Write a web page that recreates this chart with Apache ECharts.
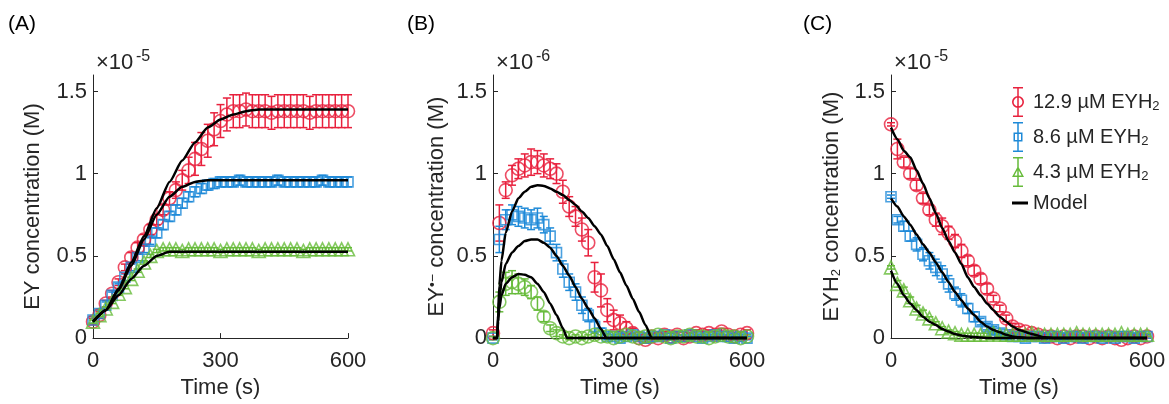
<!DOCTYPE html>
<html><head><meta charset="utf-8">
<script src="https://cdn.jsdelivr.net/npm/echarts@6/dist/echarts.min.js"></script>
<style>html,body{margin:0;padding:0;background:#fff}#c{width:1169px;height:404px}</style>
</head><body><div id="c"></div>
<script>
// ---------- data ----------
const time = [0,15,30,45,60,75,90,105,120,135,150,165,180,195,210,225,240,255,270,285,300,315,330,345,360,375,390,405,420,435,450,465,480,495,510,525,540,555,570,585,600];
const xTicks = [0,300,600];
const yTicks = [0,0.5,1,1.5];
const seriesNames = ['12.9 µM EYH2','8.6 µM EYH2','4.3 µM EYH2'];

// Panel A: EY (x1e-5 M)
const aRed = [0.10,0.14,0.21,0.27,0.34,0.43,0.49,0.55,0.60,0.66,0.72,0.78,0.85,0.90,0.96,1.02,1.09,1.15,1.20,1.27,1.32,1.36,1.38,1.38,1.39,1.38,1.38,1.38,1.37,1.38,1.38,1.38,1.38,1.38,1.37,1.38,1.38,1.38,1.38,1.38,1.38];
const aRedErr = [0.02,0.02,0.02,0.02,0.02,0.02,0.03,0.03,0.03,0.03,0.03,0.03,0.04,0.05,0.06,0.08,0.10,0.10,0.10,0.10,0.10,0.10,0.10,0.10,0.10,0.10,0.10,0.10,0.10,0.10,0.10,0.10,0.10,0.10,0.10,0.10,0.10,0.10,0.10,0.10,0.10];
const aBlue = [0.11,0.15,0.20,0.26,0.31,0.37,0.43,0.49,0.54,0.59,0.64,0.69,0.74,0.78,0.82,0.86,0.89,0.91,0.93,0.94,0.95,0.95,0.95,0.96,0.95,0.95,0.95,0.95,0.95,0.96,0.95,0.95,0.95,0.95,0.95,0.95,0.96,0.95,0.95,0.95,0.95];
const aBlueErr = [0.02,0.02,0.02,0.02,0.02,0.02,0.02,0.02,0.02,0.02,0.03,0.03,0.03,0.03,0.03,0.03,0.03,0.03,0.03,0.03,0.03,0.03,0.03,0.03,0.03,0.03,0.03,0.03,0.03,0.03,0.03,0.03,0.03,0.03,0.03,0.03,0.03,0.03,0.03,0.03,0.03];
const aGreen = [0.10,0.14,0.18,0.22,0.27,0.31,0.36,0.41,0.46,0.50,0.53,0.54,0.54,0.54,0.53,0.54,0.54,0.54,0.54,0.54,0.53,0.54,0.54,0.54,0.54,0.54,0.53,0.54,0.54,0.54,0.54,0.54,0.54,0.53,0.54,0.54,0.54,0.54,0.54,0.54,0.54];
const aGreenErr = [0.01,0.01,0.01,0.01,0.01,0.01,0.01,0.01,0.01,0.01,0.01,0.01,0.01,0.01,0.01,0.01,0.01,0.01,0.01,0.01,0.01,0.01,0.01,0.01,0.01,0.01,0.01,0.01,0.01,0.01,0.01,0.01,0.01,0.01,0.01,0.01,0.01,0.01,0.01,0.01,0.01];
const aModelT = [0,30,60,90,120,150,180,210,240,270,300,330,360,390,600];
const aRedModel = [0.10,0.17,0.30,0.46,0.62,0.79,0.95,1.08,1.19,1.28,1.33,1.36,1.38,1.39,1.39];
const aBlueModel = [0.10,0.17,0.29,0.44,0.60,0.75,0.86,0.92,0.95,0.96,0.96,0.96,0.96,0.96,0.96];
const aGreenModel = [0.10,0.17,0.26,0.36,0.44,0.50,0.525,0.525,0.525,0.525,0.525,0.525,0.525,0.525,0.525];

// Panel B: EY radical anion (x1e-6 M)
const bRed = [0.03,0.70,0.90,0.99,1.03,1.05,1.07,1.07,1.05,1.03,1.00,0.89,0.80,0.74,0.66,0.58,0.37,0.29,0.17,0.11,0.09,0.06,0.03,0.00,-0.01,0.01,0.00,0.02,0.01,0.02,0.00,0.01,0.03,0.02,0.03,0.02,0.04,0.02,0.01,0.02,0.03];
const bRedErr = [0.02,0.11,0.05,0.06,0.06,0.07,0.08,0.07,0.07,0.06,0.06,0.07,0.06,0.06,0.07,0.08,0.09,0.10,0.07,0.06,0.05,0.04,0.03,0.02,0.02,0.02,0.02,0.02,0.02,0.02,0.02,0.02,0.02,0.02,0.02,0.02,0.02,0.02,0.02,0.02,0.02];
const bBlue = [0.00,0.60,0.72,0.75,0.74,0.73,0.72,0.73,0.69,0.62,0.52,0.42,0.34,0.28,0.20,0.14,0.07,0.03,0.01,0.01,0.00,0.01,0.02,0.01,0.00,0.01,0.01,0.02,0.00,0.01,0.01,0.02,0.01,0.00,0.01,0.02,0.01,0.01,0.00,0.01,0.00];
const bBlueErr = [0.01,0.08,0.06,0.06,0.06,0.06,0.06,0.06,0.05,0.05,0.05,0.05,0.05,0.05,0.05,0.04,0.04,0.03,0.02,0.01,0.01,0.01,0.01,0.01,0.01,0.01,0.01,0.01,0.01,0.01,0.01,0.01,0.01,0.01,0.01,0.01,0.01,0.01,0.01,0.01,0.01];
const bGreen = [0.00,0.22,0.33,0.34,0.33,0.31,0.28,0.21,0.13,0.06,0.03,0.01,0.00,0.01,0.00,0.01,0.02,0.01,0.01,0.00,0.01,0.02,0.01,0.00,0.01,0.01,0.02,0.01,0.00,0.01,0.01,0.02,0.01,0.01,0.00,0.01,0.02,0.01,0.01,0.00,0.01];
const bGreenErr = [0.01,0.06,0.07,0.07,0.06,0.05,0.04,0.04,0.03,0.02,0.02,0.01,0.01,0.01,0.01,0.01,0.01,0.01,0.01,0.01,0.01,0.01,0.01,0.01,0.01,0.01,0.01,0.01,0.01,0.01,0.01,0.01,0.01,0.01,0.01,0.01,0.01,0.01,0.01,0.01,0.01];
const bRedModelT = [0,10,12,15,20,30,45,60,75,90,105,120,135,150,165,180,195,210,225,240,255,270,285,300,315,330,345,360,375,600];
const bRedModel = [0,0,0.15,0.32,0.47,0.64,0.77,0.85,0.89,0.92,0.93,0.925,0.91,0.89,0.87,0.84,0.81,0.77,0.73,0.68,0.63,0.56,0.48,0.40,0.32,0.24,0.16,0.08,0,0];
const bBlueModelT = [0,10,12,15,20,30,45,60,75,90,105,120,135,150,165,180,195,210,225,240,255,268,600];
const bBlueModel = [0,0,0.12,0.24,0.34,0.45,0.52,0.56,0.59,0.60,0.60,0.58,0.55,0.50,0.44,0.38,0.31,0.24,0.18,0.12,0.055,0,0];
const bGreenModelT = [0,10,12,15,20,30,45,60,75,90,105,120,135,150,165,175,600];
const bGreenModel = [0,0,0.10,0.18,0.26,0.33,0.37,0.39,0.385,0.37,0.33,0.28,0.21,0.14,0.06,0,0];

// Panel C: EYH2 (x1e-5 M)
const cRed = [1.30,1.15,1.07,1.00,0.93,0.85,0.78,0.72,0.68,0.64,0.59,0.53,0.47,0.41,0.36,0.30,0.24,0.18,0.12,0.07,0.05,0.04,0.03,0.02,0.01,0.01,0.00,0.01,0.00,0.01,0.01,0.00,0.01,0.00,0.01,0.00,-0.01,0.00,0.01,0.00,0.01];
const cRedErr = [0.01,0.06,0.03,0.03,0.03,0.03,0.03,0.04,0.05,0.04,0.04,0.04,0.03,0.03,0.03,0.03,0.02,0.02,0.02,0.02,0.02,0.01,0.01,0.01,0.01,0.01,0.01,0.01,0.01,0.01,0.01,0.01,0.01,0.01,0.01,0.01,0.01,0.01,0.01,0.01,0.01];
const cBlue = [0.86,0.72,0.68,0.62,0.57,0.51,0.47,0.43,0.39,0.33,0.27,0.23,0.18,0.13,0.10,0.07,0.05,0.03,0.02,0.01,0.01,0.00,0.01,0.01,0.00,0.01,0.01,0.00,0.01,0.01,0.00,0.01,0.01,0.00,0.01,0.00,0.01,0.01,0.00,0.01,0.01];
const cBlueErr = [0.01,0.02,0.03,0.03,0.04,0.04,0.05,0.05,0.05,0.05,0.04,0.04,0.03,0.03,0.02,0.02,0.02,0.01,0.01,0.01,0.01,0.01,0.01,0.01,0.01,0.01,0.01,0.01,0.01,0.01,0.01,0.01,0.01,0.01,0.01,0.01,0.01,0.01,0.01,0.01,0.01];
const cGreen = [0.43,0.33,0.29,0.23,0.18,0.15,0.12,0.09,0.06,0.04,0.03,0.02,0.02,0.02,0.02,0.02,0.03,0.02,0.02,0.02,0.02,0.02,0.03,0.02,0.02,0.02,0.02,0.02,0.02,0.03,0.02,0.02,0.02,0.02,0.02,0.02,0.03,0.02,0.02,0.02,0.02];
const cGreenErr = [0.01,0.02,0.02,0.02,0.02,0.02,0.01,0.01,0.01,0.01,0.01,0.01,0.01,0.01,0.01,0.01,0.01,0.01,0.01,0.01,0.01,0.01,0.01,0.01,0.01,0.01,0.01,0.01,0.01,0.01,0.01,0.01,0.01,0.01,0.01,0.01,0.01,0.01,0.01,0.01,0.01];
const cModelT = [0,15,30,45,60,75,90,105,120,135,150,165,180,195,210,225,240,255,270,285,300,330,360,390,600];
const cRedModel = [1.28,1.21,1.14,1.10,1.02,0.94,0.85,0.76,0.67,0.59,0.52,0.45,0.37,0.31,0.26,0.21,0.17,0.13,0.10,0.07,0.05,0.025,0.005,0,0];
const cBlueModel = [0.85,0.80,0.74,0.69,0.63,0.57,0.52,0.46,0.40,0.34,0.28,0.23,0.18,0.14,0.10,0.07,0.05,0.035,0.02,0.01,0.005,0,0,0,0];
const cGreenModel = [0.41,0.33,0.26,0.21,0.17,0.13,0.10,0.08,0.055,0.04,0.025,0.016,0.01,0.006,0.003,0.001,0,0,0,0,0,0,0,0,0];

// ---------- styling ----------
const FONT = '"Liberation Sans", Arial, Helvetica, sans-serif';
const DARK = '#262626';
const COLORS = ['#E8213D', '#1E8AD8', '#66BB3A'];
const SYMSIZE = {circle: 13, rect: 10, triangle: 13};
const AXL = [93, 493, 891];
const AXW = [255, 254, 256];

const panels = [
  {data:[aRed,aBlue,aGreen], err:[aRedErr,aBlueErr,aGreenErr], sym:['circle','rect','triangle'],
   model:[[aModelT,aRedModel],[aModelT,aBlueModel],[aModelT,aGreenModel]],
   yname:'EY concentration (M)', gap:49, exp:'-5', label:'(A)', labelX:8},
  {data:[bRed,bBlue,bGreen], err:[bRedErr,bBlueErr,bGreenErr], sym:['circle','rect','circle'],
   model:[[bRedModelT,bRedModel],[bBlueModelT,bBlueModel],[bGreenModelT,bGreenModel]],
   yname:'EY{sup|•−} concentration (M)', gap:45, exp:'-6', label:'(B)', labelX:407},
  {data:[cRed,cBlue,cGreen], err:[cRedErr,cBlueErr,cGreenErr], sym:['circle','rect','triangle'],
   model:[[cModelT,cRedModel],[cModelT,cBlueModel],[cModelT,cGreenModel]],
   yname:'EYH{sub|2} concentration (M)', gap:48, exp:'-5', label:'(C)', labelX:803}
];

const richStyles = {
  sub: {fontSize: 13, lineHeight: 13, padding: [13,0,0,0], verticalAlign: 'bottom', fontFamily: FONT, color: DARK},
  sup: {fontSize: 14, lineHeight: 14, padding: [0,0,12,0], verticalAlign: 'top', fontFamily: FONT, color: DARK}
};

function errRender(params, api) {
  const t = api.value(0), v = api.value(1), e = api.value(2);
  const hi = api.coord([t, v + e]), lo = api.coord([t, v - e]);
  const hw = 4;
  const style = {stroke: api.visual('color'), lineWidth: 1.5, fill: null};
  return {type: 'group', children: [
    {type: 'line', shape: {x1: hi[0], y1: hi[1], x2: lo[0], y2: lo[1]}, style: style},
    {type: 'line', shape: {x1: hi[0]-hw, y1: hi[1], x2: hi[0]+hw, y2: hi[1]}, style: style},
    {type: 'line', shape: {x1: lo[0]-hw, y1: lo[1], x2: lo[0]+hw, y2: lo[1]}, style: style}
  ]};
}

const grid = [], xAxis = [], yAxis = [], series = [], graphic = [];
panels.forEach((p, g) => {
  grid.push({left: AXL[g], top: 75, width: AXW[g], height: 267, containLabel: false});
  xAxis.push({gridIndex: g, type: 'value', min: 0, max: 600, interval: 300,
    axisLine: {show: true, onZero: false, lineStyle: {color: DARK, width: 1}},
    axisTick: {show: true, inside: true, length: 5, customValues: xTicks, lineStyle: {color: DARK, width: 1}},
    axisLabel: {margin: 12, fontSize: 22, color: DARK, fontFamily: FONT, customValues: xTicks},
    splitLine: {show: false},
    name: 'Time (s)', nameLocation: 'middle', nameGap: 37,
    nameTextStyle: {fontSize: 22, color: DARK, fontFamily: FONT}});
  yAxis.push({gridIndex: g, type: 'value', min: 0, max: 1.6, interval: 0.5,
    axisLine: {show: true, onZero: false, lineStyle: {color: DARK, width: 1}},
    axisTick: {show: true, inside: true, length: 5, customValues: yTicks, lineStyle: {color: DARK, width: 1}},
    axisLabel: {margin: 6, fontSize: 22, color: DARK, fontFamily: FONT, customValues: yTicks,
      formatter: v => String(v)},
    splitLine: {show: false},
    name: p.yname, nameLocation: 'middle', nameGap: p.gap,
    nameTextStyle: {fontSize: 22, lineHeight: 22, color: DARK, fontFamily: FONT, rich: richStyles}});
  for (let k = 0; k < 3; k++) {
    const vals = p.data[k], errs = p.err[k];
    series.push({type: 'custom', name: seriesNames[k], xAxisIndex: g, yAxisIndex: g,
      renderItem: errRender, encode: {x: 0, y: 1}, clip: false, silent: true, z: 2,
      itemStyle: {color: COLORS[k]},
      data: time.map((t, i) => [t, vals[i], errs[i]])});
    series.push({type: 'scatter', name: seriesNames[k], xAxisIndex: g, yAxisIndex: g,
      symbol: p.sym[k], symbolSize: SYMSIZE[p.sym[k]], clip: false, silent: true, z: 2,
      itemStyle: {color: 'rgba(0,0,0,0)', borderColor: COLORS[k], borderWidth: 1.6},
      emphasis: {disabled: true},
      data: time.map((t, i) => [t, vals[i]])});
  }
  for (let k = 0; k < 3; k++) {
    const [mt, mv] = p.model[k];
    series.push({type: 'line', name: 'Model', xAxisIndex: g, yAxisIndex: g,
      symbol: 'none', showSymbol: false, smooth: 0.2, smoothMonotone: 'x', clip: false, silent: true, z: 5,
      lineStyle: {color: '#000', width: 2.5}, itemStyle: {color: '#000'},
      emphasis: {disabled: true},
      data: mt.map((t, i) => [t, mv[i]])});
  }
  graphic.push({type: 'text', x: AXL[g] + 3, y: 62.5,
    style: {text: '×10', font: '22px ' + FONT, fill: DARK, verticalAlign: 'middle'}});
  graphic.push({type: 'text', x: AXL[g] + 43, y: 56.5,
    style: {text: p.exp, font: '16px ' + FONT, fill: DARK, verticalAlign: 'middle'}});
  graphic.push({type: 'text', x: p.labelX, y: 24,
    style: {text: p.label, font: '21px ' + FONT, fill: '#000', verticalAlign: 'middle'}});
});

const ICONS = [
  'path://M5.25,0 H6.75 V30 H5.25 Z M1,0 H11 V1.5 H1 Z M1,28.5 H11 V30 H1 Z M6,9 A6,6 0 1 1 5.99,9 Z M6,10.6 A4.4,4.4 0 1 0 6.01,10.6 Z',
  'path://M5.25,0 H6.75 V30 H5.25 Z M1,0 H11 V1.5 H1 Z M1,28.5 H11 V30 H1 Z M1.5,10.5 H10.5 V19.5 H1.5 Z M3,12 V18 H9 V12 Z',
  'path://M5.25,0 H6.75 V30 H5.25 Z M1,0 H11 V1.5 H1 Z M1,28.5 H11 V30 H1 Z M6,9 L12,20 L0,20 Z M6,12 L2.4,18.6 L9.6,18.6 Z'
];

const legendText = {fontSize: 20, color: DARK, fontFamily: FONT, lineHeight: 22, padding: [0,0,0,4], rich: richStyles};

const option = {
  animation: false,
  backgroundColor: '#fff',
  grid, xAxis, yAxis, series, graphic,
  legend: [
    {orient: 'vertical', left: 1007, top: 82, itemWidth: 12, itemHeight: 30, itemGap: 5,
     selectedMode: false, textStyle: legendText,
     formatter: n => n.replace(/H2$/, 'H{sub|2}'),
     data: seriesNames.map((n, k) => ({name: n, icon: ICONS[k], itemStyle: {color: COLORS[k], borderWidth: 0}}))},
    {orient: 'vertical', left: 1007, top: 188, itemWidth: 16, itemHeight: 3,
     selectedMode: false, textStyle: {fontSize: 20, color: DARK, fontFamily: FONT, padding: [0,0,0,0]},
     data: [{name: 'Model', icon: 'rect', itemStyle: {color: '#000', borderWidth: 0}}]}
  ]
};

const chart = echarts.init(document.getElementById('c'), null, {renderer: 'canvas'});
chart.setOption(option);
</script>
</body></html>
